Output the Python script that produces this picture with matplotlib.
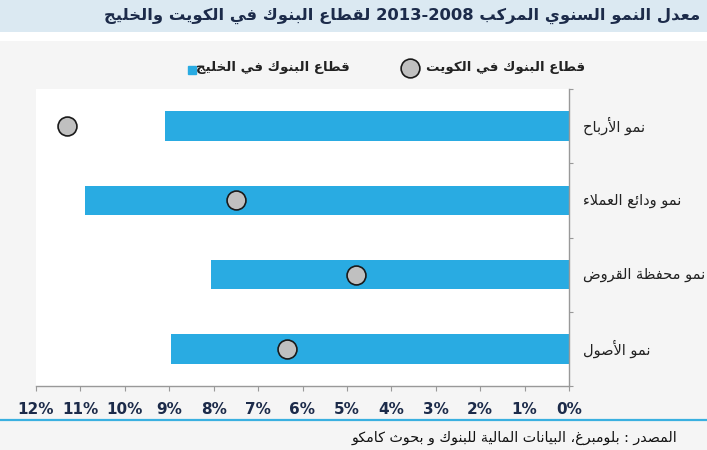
import re
import matplotlib
matplotlib.use('Agg')
import matplotlib.pyplot as plt
from matplotlib.lines import Line2D
from matplotlib.patches import Rectangle

# data (percent)
categories = ['نمو الأرباح', 'نمو ودائع العملاء', 'نمو محفظة القروض', 'نمو الأصول']
gulf_banks = [9.1, 10.9, 8.05, 8.95]
kuwait_banks = [11.3, 7.5, 4.8, 6.35]
x_ticks = list(range(0, 13))

title = 'معدل النمو السنوي المركب 2013-2008 لقطاع البنوك في الكويت والخليج'
legend_kuwait = 'قطاع البنوك في الكويت'
legend_gulf = 'قطاع البنوك في الخليج'
source = 'المصدر : بلومبرغ، البيانات المالية للبنوك و بحوث كامكو'

# minimal arabic shaping (presentation forms) + right-to-left ordering
_DUAL = {'ئ': 0xFE89, 'ب': 0xFE8F, 'ت': 0xFE95, 'ث': 0xFE99, 'ج': 0xFE9D, 'ح': 0xFEA1,
         'خ': 0xFEA5, 'س': 0xFEB1, 'ش': 0xFEB5, 'ص': 0xFEB9, 'ض': 0xFEBD, 'ط': 0xFEC1,
         'ظ': 0xFEC5, 'ع': 0xFEC9, 'غ': 0xFECD, 'ف': 0xFED1, 'ق': 0xFED5, 'ك': 0xFED9,
         'ل': 0xFEDD, 'م': 0xFEE1, 'ن': 0xFEE5, 'ه': 0xFEE9, 'ي': 0xFEF1}
_RIGHT = {'آ': 0xFE81, 'أ': 0xFE83, 'ؤ': 0xFE85, 'إ': 0xFE87, 'ا': 0xFE8D, 'ة': 0xFE93,
          'د': 0xFEA9, 'ذ': 0xFEAB, 'ر': 0xFEAD, 'ز': 0xFEAF, 'و': 0xFEED, 'ى': 0xFEEF}
_LAMALEF = {'آ': 0xFEF5, 'أ': 0xFEF7, 'إ': 0xFEF9, 'ا': 0xFEFB}


def shape(text):
    out = []
    i = 0
    n = len(text)
    while i < n:
        c = text[i]
        prev = text[i - 1] if i > 0 else ''
        joins_prev = prev in _DUAL and (c in _DUAL or c in _RIGHT)
        if c == 'ل' and i + 1 < n and text[i + 1] in _LAMALEF:
            out.append(chr(_LAMALEF[text[i + 1]] + (1 if joins_prev else 0)))
            i += 2
            continue
        nxt = text[i + 1] if i + 1 < n else ''
        if c in _DUAL:
            joins_next = nxt in _DUAL or nxt in _RIGHT
            if joins_prev and joins_next:
                off = 3
            elif joins_prev:
                off = 1
            elif joins_next:
                off = 2
            else:
                off = 0
            out.append(chr(_DUAL[c] + off))
        elif c in _RIGHT:
            out.append(chr(_RIGHT[c] + (1 if joins_prev else 0)))
        else:
            out.append(c)
        i += 1
    return ''.join(out)


def rtl(text):
    runs = re.split(r'([0-9][0-9\-]*[0-9]|[0-9])', shape(text))
    vis = []
    for k, r in enumerate(runs):
        vis.append(r if k % 2 == 1 else r[::-1])
    return ''.join(reversed(vis))


plt.rcParams['font.family'] = ['DejaVu Sans']

bar_color = '#29abe2'
navy = '#1c2b4a'
W, H = 707, 450

fig = plt.figure(figsize=(W / 100, H / 100), dpi=100, facecolor='#f5f5f5')

# title band and white strip under it
fig.add_artist(Rectangle((0, 1 - 32 / H), 1, 32 / H, transform=fig.transFigure,
                         facecolor='#dbe9f2', edgecolor='none', zorder=0))
fig.add_artist(Rectangle((0, 1 - 41 / H), 1, 9 / H, transform=fig.transFigure,
                         facecolor='white', edgecolor='none', zorder=0))
fig.text(700 / W, 1 - 16 / H, rtl(title), ha='right', va='center',
         fontsize=11.8, fontweight='bold', color=navy)

ax = fig.add_axes([36 / W, 1 - 386 / H, (569 - 36) / W, (386 - 89) / H])
ax.set_facecolor('white')

y = list(range(len(categories)))
ax.barh(y, gulf_banks, height=0.4, color=bar_color, zorder=2)
ax.scatter(kuwait_banks, y, s=185, color='#c0c0c0', edgecolor='#1a1a1a',
           linewidth=1.2, zorder=3)

ax.set_xlim(12, 0)
ax.set_ylim(len(categories) - 0.5, -0.5)
ax.set_xticks(x_ticks)
ax.set_xticklabels([f'{v}%' for v in x_ticks], fontsize=11, fontweight='bold', color=navy)
ax.tick_params(axis='x', length=3.5, color='#999999', pad=8)

ax.set_yticks([k - 0.5 for k in range(len(categories) + 1)])
ax.set_yticklabels([])
ax.yaxis.tick_right()
ax.tick_params(axis='y', length=3, color='#999999')

for side in ['left', 'top']:
    ax.spines[side].set_visible(False)
for side in ['right', 'bottom']:
    ax.spines[side].set_color('#999999')
    ax.spines[side].set_linewidth(1)

for k, lab in enumerate(categories):
    ax.text((583 - 36) / (569 - 36), k, rtl(lab), transform=ax.get_yaxis_transform(),
            ha='left', va='center', fontsize=10.5, color='#222222')

# legend drawn by hand to keep the RTL order of the reference
fig.text(585 / W, 1 - 68 / H, rtl(legend_kuwait), ha='right', va='center',
         fontsize=9.6, fontweight='bold', color='#222222')
fig.add_artist(Line2D([410 / W], [1 - 68 / H], marker='o', markersize=13.5,
                      markerfacecolor='#c0c0c0', markeredgecolor='#1a1a1a',
                      markeredgewidth=1.2, linestyle='none', transform=fig.transFigure))
gulf_txt = fig.text(350 / W, 1 - 68 / H, rtl(legend_gulf), ha='right', va='center',
                    fontsize=9.6, fontweight='bold', color='#222222')
fig.canvas.draw()
left_px = gulf_txt.get_window_extent().x0
fig.add_artist(Line2D([(left_px - 4) / W], [1 - 70 / H], marker='s', markersize=5.5,
                      markerfacecolor=bar_color, markeredgecolor=bar_color,
                      linestyle='none', transform=fig.transFigure))

# bottom rule and source
fig.add_artist(Line2D([0, 1], [1 - 420 / H, 1 - 420 / H], color='#3ab0e0',
                      linewidth=1.6, transform=fig.transFigure))
fig.text(677 / W, 1 - 438 / H, rtl(source), ha='right', va='center',
         fontsize=10.3, color='#111111')

fig.savefig('out.png', dpi=100, facecolor=fig.get_facecolor())
